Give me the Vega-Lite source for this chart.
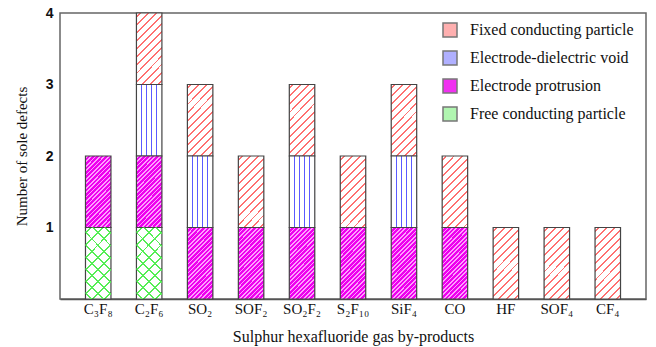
{
  "$schema": "https://vega.github.io/schema/vega-lite/v6.json",
  "width": 586,
  "height": 286,
  "autosize": {"type": "none"},
  "padding": {"left": 60, "top": 13, "right": 10, "bottom": 48},
  "config": {
    "font": "Liberation Serif",
    "view": {"stroke": "#666666", "strokeWidth": 1.5},
    "axis": {"grid": false, "ticks": false, "domain": false},
    "legend": {"labelFont": "Liberation Serif", "labelFontSize": 16, "labelColor": "#111111"}
  },
  "data": {
    "values": [
      {"gas": "C₃F₈", "type": "Free conducting particle", "level": 1, "count": 1},
      {"gas": "C₃F₈", "type": "Electrode protrusion", "level": 2, "count": 1},
      {"gas": "C₂F₆", "type": "Free conducting particle", "level": 1, "count": 1},
      {"gas": "C₂F₆", "type": "Electrode protrusion", "level": 2, "count": 1},
      {"gas": "C₂F₆", "type": "Electrode-dielectric void", "level": 3, "count": 1},
      {"gas": "C₂F₆", "type": "Fixed conducting particle", "level": 4, "count": 1},
      {"gas": "SO₂", "type": "Electrode protrusion", "level": 2, "count": 1},
      {"gas": "SO₂", "type": "Electrode-dielectric void", "level": 3, "count": 1},
      {"gas": "SO₂", "type": "Fixed conducting particle", "level": 4, "count": 1},
      {"gas": "SOF₂", "type": "Electrode protrusion", "level": 2, "count": 1},
      {"gas": "SOF₂", "type": "Fixed conducting particle", "level": 4, "count": 1},
      {"gas": "SO₂F₂", "type": "Electrode protrusion", "level": 2, "count": 1},
      {"gas": "SO₂F₂", "type": "Electrode-dielectric void", "level": 3, "count": 1},
      {"gas": "SO₂F₂", "type": "Fixed conducting particle", "level": 4, "count": 1},
      {"gas": "S₂F₁₀", "type": "Electrode protrusion", "level": 2, "count": 1},
      {"gas": "S₂F₁₀", "type": "Fixed conducting particle", "level": 4, "count": 1},
      {"gas": "SiF₄", "type": "Electrode protrusion", "level": 2, "count": 1},
      {"gas": "SiF₄", "type": "Electrode-dielectric void", "level": 3, "count": 1},
      {"gas": "SiF₄", "type": "Fixed conducting particle", "level": 4, "count": 1},
      {"gas": "CO", "type": "Electrode protrusion", "level": 2, "count": 1},
      {"gas": "CO", "type": "Fixed conducting particle", "level": 4, "count": 1},
      {"gas": "HF", "type": "Fixed conducting particle", "level": 4, "count": 1},
      {"gas": "SOF₄", "type": "Fixed conducting particle", "level": 4, "count": 1},
      {"gas": "CF₄", "type": "Fixed conducting particle", "level": 4, "count": 1}
    ]
  },
  "transform": [
    {"stack": "count", "groupby": ["gas"], "sort": [{"field": "level", "order": "ascending"}], "as": ["y0", "y1"]}
  ],
  "encoding": {
    "x": {
      "field": "gas",
      "type": "nominal",
      "sort": null,
      "scale": {"paddingInner": 0.5, "paddingOuter": 0.5},
      "axis": {
        "title": "Sulphur hexafluoride gas by-products",
        "labelAngle": 0,
        "labelFont": "Liberation Serif",
        "labelFontSize": 15,
        "labelColor": "#111111",
        "labelPadding": 2,
        "titleFont": "Liberation Serif",
        "titleFontSize": 16,
        "titleFontWeight": "normal",
        "titleColor": "#111111",
        "titlePadding": 12,
        "domain": true,
        "domainColor": "#555555",
        "domainWidth": 1.5
      }
    },
    "y": {
      "field": "y1",
      "type": "quantitative",
      "scale": {"domain": [0, 4], "nice": false},
      "axis": {
        "title": "Number of sole defects",
        "values": [1, 2, 3, 4],
        "labelFont": "Liberation Sans",
        "labelFontWeight": "bold",
        "labelFontSize": 14,
        "labelColor": "#111111",
        "labelPadding": 7,
        "titleFont": "Liberation Serif",
        "titleFontSize": 15,
        "titleFontWeight": "normal",
        "titleColor": "#111111",
        "titlePadding": 16
      }
    },
    "y2": {"field": "y0"}
  },
  "layer": [
    {
      "mark": {"type": "bar", "strokeWidth": 0},
      "encoding": {
        "fill": {
          "field": "type",
          "type": "nominal",
          "scale": {
            "domain": ["Fixed conducting particle", "Electrode-dielectric void", "Electrode protrusion", "Free conducting particle"],
            "range": ["#ffb0b0", "#b0b0ff", "#f030f0", "#b0f5b0"]
          },
          "legend": {
            "title": null,
            "orient": "none",
            "legendX": 382,
            "legendY": 9,
            "padding": 0,
            "symbolType": "square",
            "symbolSize": 196,
            "symbolStrokeColor": "#777777",
            "symbolStrokeWidth": 1.5,
            "labelFont": "Liberation Serif",
            "labelFontSize": 16,
            "labelColor": "#111111",
            "labelOffset": 12,
            "rowPadding": 8,
            "labelLimit": 300
          }
        }
      }
    },
    {
      "transform": [{"filter": "datum.type === 'Fixed conducting particle'"}],
      "mark": {
        "type": "bar", "stroke": "#444444", "strokeWidth": 1.2,
        "fill": {"gradient": "linear", "x1": 0, "y1": 0, "x2": 0.433, "y2": 1.204, "stops": [
          {"offset": 0, "color": "#ffffff"},
          {"offset": 0.03, "color": "#ffffff"}, {"offset": 0.03, "color": "#ff7070"}, {"offset": 0.05, "color": "#ff7070"}, {"offset": 0.05, "color": "#ffffff"},
          {"offset": 0.113, "color": "#ffffff"}, {"offset": 0.113, "color": "#ff7070"}, {"offset": 0.133, "color": "#ff7070"}, {"offset": 0.133, "color": "#ffffff"},
          {"offset": 0.197, "color": "#ffffff"}, {"offset": 0.197, "color": "#ff7070"}, {"offset": 0.217, "color": "#ff7070"}, {"offset": 0.217, "color": "#ffffff"},
          {"offset": 0.28, "color": "#ffffff"}, {"offset": 0.28, "color": "#ff7070"}, {"offset": 0.3, "color": "#ff7070"}, {"offset": 0.3, "color": "#ffffff"},
          {"offset": 0.363, "color": "#ffffff"}, {"offset": 0.363, "color": "#ff7070"}, {"offset": 0.383, "color": "#ff7070"}, {"offset": 0.383, "color": "#ffffff"},
          {"offset": 0.447, "color": "#ffffff"}, {"offset": 0.447, "color": "#ff7070"}, {"offset": 0.467, "color": "#ff7070"}, {"offset": 0.467, "color": "#ffffff"},
          {"offset": 0.53, "color": "#ffffff"}, {"offset": 0.53, "color": "#ff7070"}, {"offset": 0.55, "color": "#ff7070"}, {"offset": 0.55, "color": "#ffffff"},
          {"offset": 0.613, "color": "#ffffff"}, {"offset": 0.613, "color": "#ff7070"}, {"offset": 0.633, "color": "#ff7070"}, {"offset": 0.633, "color": "#ffffff"},
          {"offset": 0.697, "color": "#ffffff"}, {"offset": 0.697, "color": "#ff7070"}, {"offset": 0.717, "color": "#ff7070"}, {"offset": 0.717, "color": "#ffffff"},
          {"offset": 0.78, "color": "#ffffff"}, {"offset": 0.78, "color": "#ff7070"}, {"offset": 0.8, "color": "#ff7070"}, {"offset": 0.8, "color": "#ffffff"},
          {"offset": 0.863, "color": "#ffffff"}, {"offset": 0.863, "color": "#ff7070"}, {"offset": 0.883, "color": "#ff7070"}, {"offset": 0.883, "color": "#ffffff"},
          {"offset": 0.947, "color": "#ffffff"}, {"offset": 0.947, "color": "#ff7070"}, {"offset": 0.967, "color": "#ff7070"}, {"offset": 0.967, "color": "#ffffff"},
          {"offset": 1, "color": "#ffffff"}
        ]}
      },
      "encoding": {}
    },
    {
      "transform": [{"filter": "datum.type === 'Electrode-dielectric void'"}],
      "mark": {
        "type": "bar", "stroke": "#444444", "strokeWidth": 1.2,
        "fill": {"gradient": "linear", "x1": 0, "y1": 0, "x2": 1, "y2": 0, "stops": [
          {"offset": 0, "color": "#ffffff"},
          {"offset": 0.175, "color": "#ffffff"}, {"offset": 0.175, "color": "#5a5aff"}, {"offset": 0.225, "color": "#5a5aff"}, {"offset": 0.225, "color": "#ffffff"},
          {"offset": 0.375, "color": "#ffffff"}, {"offset": 0.375, "color": "#5a5aff"}, {"offset": 0.425, "color": "#5a5aff"}, {"offset": 0.425, "color": "#ffffff"},
          {"offset": 0.575, "color": "#ffffff"}, {"offset": 0.575, "color": "#5a5aff"}, {"offset": 0.625, "color": "#5a5aff"}, {"offset": 0.625, "color": "#ffffff"},
          {"offset": 0.775, "color": "#ffffff"}, {"offset": 0.775, "color": "#5a5aff"}, {"offset": 0.825, "color": "#5a5aff"}, {"offset": 0.825, "color": "#ffffff"},
          {"offset": 1, "color": "#ffffff"}
        ]}
      },
      "encoding": {}
    },
    {
      "transform": [{"filter": "datum.type === 'Electrode protrusion'"}],
      "mark": {
        "type": "bar", "stroke": "#444444", "strokeWidth": 1.2,
        "fill": {"gradient": "linear", "x1": 0, "y1": 0, "x2": 0.433, "y2": 1.204, "stops": [
          {"offset": 0, "color": "#ee00ee"},
          {"offset": 0.01, "color": "#ee00ee"}, {"offset": 0.01, "color": "#ff9dff"}, {"offset": 0.028, "color": "#ff9dff"}, {"offset": 0.028, "color": "#ee00ee"},
          {"offset": 0.0555, "color": "#ee00ee"}, {"offset": 0.0555, "color": "#ff9dff"}, {"offset": 0.0735, "color": "#ff9dff"}, {"offset": 0.0735, "color": "#ee00ee"},
          {"offset": 0.101, "color": "#ee00ee"}, {"offset": 0.101, "color": "#ff9dff"}, {"offset": 0.119, "color": "#ff9dff"}, {"offset": 0.119, "color": "#ee00ee"},
          {"offset": 0.146, "color": "#ee00ee"}, {"offset": 0.146, "color": "#ff9dff"}, {"offset": 0.164, "color": "#ff9dff"}, {"offset": 0.164, "color": "#ee00ee"},
          {"offset": 0.192, "color": "#ee00ee"}, {"offset": 0.192, "color": "#ff9dff"}, {"offset": 0.21, "color": "#ff9dff"}, {"offset": 0.21, "color": "#ee00ee"},
          {"offset": 0.237, "color": "#ee00ee"}, {"offset": 0.237, "color": "#ff9dff"}, {"offset": 0.255, "color": "#ff9dff"}, {"offset": 0.255, "color": "#ee00ee"},
          {"offset": 0.283, "color": "#ee00ee"}, {"offset": 0.283, "color": "#ff9dff"}, {"offset": 0.301, "color": "#ff9dff"}, {"offset": 0.301, "color": "#ee00ee"},
          {"offset": 0.328, "color": "#ee00ee"}, {"offset": 0.328, "color": "#ff9dff"}, {"offset": 0.346, "color": "#ff9dff"}, {"offset": 0.346, "color": "#ee00ee"},
          {"offset": 0.374, "color": "#ee00ee"}, {"offset": 0.374, "color": "#ff9dff"}, {"offset": 0.392, "color": "#ff9dff"}, {"offset": 0.392, "color": "#ee00ee"},
          {"offset": 0.419, "color": "#ee00ee"}, {"offset": 0.419, "color": "#ff9dff"}, {"offset": 0.437, "color": "#ff9dff"}, {"offset": 0.437, "color": "#ee00ee"},
          {"offset": 0.465, "color": "#ee00ee"}, {"offset": 0.465, "color": "#ff9dff"}, {"offset": 0.483, "color": "#ff9dff"}, {"offset": 0.483, "color": "#ee00ee"},
          {"offset": 0.51, "color": "#ee00ee"}, {"offset": 0.51, "color": "#ff9dff"}, {"offset": 0.528, "color": "#ff9dff"}, {"offset": 0.528, "color": "#ee00ee"},
          {"offset": 0.555, "color": "#ee00ee"}, {"offset": 0.555, "color": "#ff9dff"}, {"offset": 0.573, "color": "#ff9dff"}, {"offset": 0.573, "color": "#ee00ee"},
          {"offset": 0.601, "color": "#ee00ee"}, {"offset": 0.601, "color": "#ff9dff"}, {"offset": 0.619, "color": "#ff9dff"}, {"offset": 0.619, "color": "#ee00ee"},
          {"offset": 0.646, "color": "#ee00ee"}, {"offset": 0.646, "color": "#ff9dff"}, {"offset": 0.664, "color": "#ff9dff"}, {"offset": 0.664, "color": "#ee00ee"},
          {"offset": 0.692, "color": "#ee00ee"}, {"offset": 0.692, "color": "#ff9dff"}, {"offset": 0.71, "color": "#ff9dff"}, {"offset": 0.71, "color": "#ee00ee"},
          {"offset": 0.737, "color": "#ee00ee"}, {"offset": 0.737, "color": "#ff9dff"}, {"offset": 0.755, "color": "#ff9dff"}, {"offset": 0.755, "color": "#ee00ee"},
          {"offset": 0.783, "color": "#ee00ee"}, {"offset": 0.783, "color": "#ff9dff"}, {"offset": 0.801, "color": "#ff9dff"}, {"offset": 0.801, "color": "#ee00ee"},
          {"offset": 0.828, "color": "#ee00ee"}, {"offset": 0.828, "color": "#ff9dff"}, {"offset": 0.846, "color": "#ff9dff"}, {"offset": 0.846, "color": "#ee00ee"},
          {"offset": 0.874, "color": "#ee00ee"}, {"offset": 0.874, "color": "#ff9dff"}, {"offset": 0.892, "color": "#ff9dff"}, {"offset": 0.892, "color": "#ee00ee"},
          {"offset": 0.919, "color": "#ee00ee"}, {"offset": 0.919, "color": "#ff9dff"}, {"offset": 0.937, "color": "#ff9dff"}, {"offset": 0.937, "color": "#ee00ee"},
          {"offset": 0.965, "color": "#ee00ee"}, {"offset": 0.965, "color": "#ff9dff"}, {"offset": 0.983, "color": "#ff9dff"}, {"offset": 0.983, "color": "#ee00ee"},
          {"offset": 1, "color": "#ee00ee"}
        ]}
      },
      "encoding": {}
    },
    {
      "transform": [{"filter": "datum.type === 'Free conducting particle'"}],
      "mark": {
        "type": "bar", "stroke": "#444444", "strokeWidth": 1.2,
        "fill": {"gradient": "linear", "x1": 0, "y1": 0, "x2": 0.433, "y2": 1.204, "stops": [
          {"offset": 0, "color": "#ffffff"},
          {"offset": 0.05, "color": "#ffffff"}, {"offset": 0.05, "color": "#55ee55"}, {"offset": 0.07, "color": "#55ee55"}, {"offset": 0.07, "color": "#ffffff"},
          {"offset": 0.175, "color": "#ffffff"}, {"offset": 0.175, "color": "#55ee55"}, {"offset": 0.195, "color": "#55ee55"}, {"offset": 0.195, "color": "#ffffff"},
          {"offset": 0.3, "color": "#ffffff"}, {"offset": 0.3, "color": "#55ee55"}, {"offset": 0.32, "color": "#55ee55"}, {"offset": 0.32, "color": "#ffffff"},
          {"offset": 0.425, "color": "#ffffff"}, {"offset": 0.425, "color": "#55ee55"}, {"offset": 0.445, "color": "#55ee55"}, {"offset": 0.445, "color": "#ffffff"},
          {"offset": 0.55, "color": "#ffffff"}, {"offset": 0.55, "color": "#55ee55"}, {"offset": 0.57, "color": "#55ee55"}, {"offset": 0.57, "color": "#ffffff"},
          {"offset": 0.675, "color": "#ffffff"}, {"offset": 0.675, "color": "#55ee55"}, {"offset": 0.695, "color": "#55ee55"}, {"offset": 0.695, "color": "#ffffff"},
          {"offset": 0.8, "color": "#ffffff"}, {"offset": 0.8, "color": "#55ee55"}, {"offset": 0.82, "color": "#55ee55"}, {"offset": 0.82, "color": "#ffffff"},
          {"offset": 0.925, "color": "#ffffff"}, {"offset": 0.925, "color": "#55ee55"}, {"offset": 0.945, "color": "#55ee55"}, {"offset": 0.945, "color": "#ffffff"},
          {"offset": 1, "color": "#ffffff"}
        ]}
      },
      "encoding": {}
    },
    {
      "transform": [{"filter": "datum.type === 'Free conducting particle'"}],
      "mark": {
        "type": "bar",
        "strokeWidth": 0,
        "fill": {"gradient": "linear", "x1": 0, "y1": 1, "x2": 0.433, "y2": -0.204, "stops": [
          {"offset": 0, "color": "rgba(255,255,255,0)"},
          {"offset": 0.05, "color": "rgba(255,255,255,0)"}, {"offset": 0.05, "color": "#55ee55"}, {"offset": 0.07, "color": "#55ee55"}, {"offset": 0.07, "color": "rgba(255,255,255,0)"},
          {"offset": 0.175, "color": "rgba(255,255,255,0)"}, {"offset": 0.175, "color": "#55ee55"}, {"offset": 0.195, "color": "#55ee55"}, {"offset": 0.195, "color": "rgba(255,255,255,0)"},
          {"offset": 0.3, "color": "rgba(255,255,255,0)"}, {"offset": 0.3, "color": "#55ee55"}, {"offset": 0.32, "color": "#55ee55"}, {"offset": 0.32, "color": "rgba(255,255,255,0)"},
          {"offset": 0.425, "color": "rgba(255,255,255,0)"}, {"offset": 0.425, "color": "#55ee55"}, {"offset": 0.445, "color": "#55ee55"}, {"offset": 0.445, "color": "rgba(255,255,255,0)"},
          {"offset": 0.55, "color": "rgba(255,255,255,0)"}, {"offset": 0.55, "color": "#55ee55"}, {"offset": 0.57, "color": "#55ee55"}, {"offset": 0.57, "color": "rgba(255,255,255,0)"},
          {"offset": 0.675, "color": "rgba(255,255,255,0)"}, {"offset": 0.675, "color": "#55ee55"}, {"offset": 0.695, "color": "#55ee55"}, {"offset": 0.695, "color": "rgba(255,255,255,0)"},
          {"offset": 0.8, "color": "rgba(255,255,255,0)"}, {"offset": 0.8, "color": "#55ee55"}, {"offset": 0.82, "color": "#55ee55"}, {"offset": 0.82, "color": "rgba(255,255,255,0)"},
          {"offset": 0.925, "color": "rgba(255,255,255,0)"}, {"offset": 0.925, "color": "#55ee55"}, {"offset": 0.945, "color": "#55ee55"}, {"offset": 0.945, "color": "rgba(255,255,255,0)"},
          {"offset": 1, "color": "rgba(255,255,255,0)"}
        ]}
      },
      "encoding": {}
    }
  ]
}
